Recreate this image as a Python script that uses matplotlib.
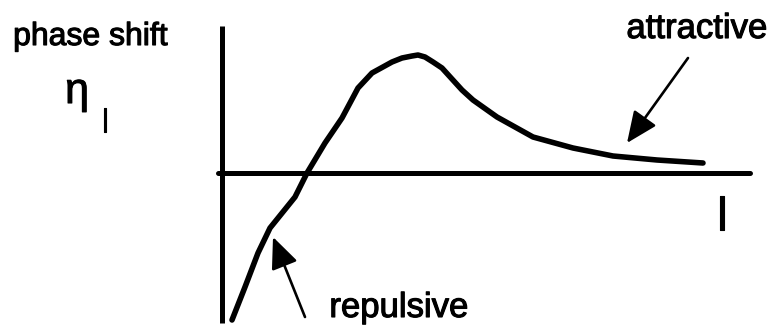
import matplotlib.pyplot as plt
import matplotlib.patheffects as pe
import numpy as np

# angular momentum l and phase shift eta_l
l_vals = np.array([0.20, 0.46, 0.72, 0.96, 1.46, 1.70, 2.06, 2.40, 2.72, 3.00,
                   3.40, 3.60, 3.80, 3.92, 4.06, 4.22, 4.40, 4.80, 5.02, 5.50,
                   6.22, 7.02, 7.82, 8.70, 9.62])
eta_vals = np.array([-2.94, -2.28, -1.60, -1.10, -0.48, 0.0, 0.60, 1.10, 1.70, 2.00,
                     2.22, 2.30, 2.34, 2.36, 2.32, 2.22, 2.10, 1.66, 1.46, 1.12,
                     0.72, 0.50, 0.34, 0.26, 0.20])

# axis extents
x_axis = [-0.08, 10.56]
y_axis = [2.94, -3.00]

# annotations: (text, text pos, arrow tail, arrow tip)
labels = {
    "attractive": ((9.50, 2.70), (9.32, 2.30), (8.10, 0.60)),
    "repulsive": ((3.54, -2.88), (1.66, -2.88), (1.02, -1.28)),
}

plt.rcParams['font.family'] = ['Liberation Sans', 'DejaVu Sans']
heavy = [pe.withStroke(linewidth=0.8, foreground='black')]

fig = plt.figure(figsize=(7.75, 3.29), dpi=100)
ax = fig.add_axes([0, 0, 1, 1])
ax.set_xlim(-4.44, 11.06)
ax.set_ylim(-3.12, 3.46)
ax.axis('off')

# axes of the sketch
ax.plot(x_axis, [0, 0], color='black', lw=3.6, solid_capstyle='round')
ax.plot([0, 0], y_axis, color='black', lw=3.6, solid_capstyle='butt')

# phase shift curve
ax.plot(l_vals, eta_vals, color='black', lw=4.0, solid_capstyle='round',
        solid_joinstyle='round')

for text, (pos, tail, tip) in labels.items():
    ax.text(pos[0], pos[1], text, fontsize=25, ha='center', va='baseline',
            path_effects=heavy)
    ax.annotate('', xy=tip, xytext=tail,
                arrowprops=dict(arrowstyle='-|>,head_length=0.8,head_width=0.35',
                                mutation_scale=24, lw=1.9, color='black',
                                shrinkA=0, shrinkB=0))

ax.text(-2.63, 2.56, 'phase shift', fontsize=23, ha='center', va='baseline',
        path_effects=heavy)
ax.text(-2.90, 1.40, 'η', fontsize=31, ha='center', va='baseline',
        path_effects=heavy)
ax.text(-2.34, 0.82, 'l', fontsize=24, ha='center', va='baseline',
        path_effects=heavy)
ax.text(10.0, -1.14, 'l', fontsize=34, ha='center', va='baseline',
        path_effects=heavy)

fig.savefig('out.png', dpi=100)
